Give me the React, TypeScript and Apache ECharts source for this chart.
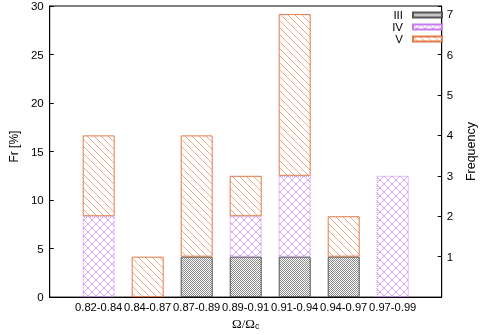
import React, { useEffect, useRef } from "react";
import * as echarts from "echarts";

const categories = ["0.82-0.84", "0.84-0.87", "0.87-0.89", "0.89-0.91", "0.91-0.94", "0.94-0.97", "0.97-0.99"];
const seriesNames = ["III", "IV", "V"];
// frequency counts per bin
const countsIII = [0, 0, 1, 1, 1, 1, 0];
const countsIV = [2, 0, 0, 1, 2, 0, 3];
const countsV = [2, 1, 3, 1, 4, 1, 0];
const frLeftMax = 30;
const freqRightMax = 7.2;

function makePattern(kind: string) {
  const n = kind === "check" ? 2 : kind === "cross" ? 8 : 7;
  const c = document.createElement("canvas");
  c.width = n;
  c.height = n;
  const ctx = c.getContext("2d")!;
  if (kind === "check") {
    ctx.fillStyle = "#fff";
    ctx.fillRect(0, 0, 2, 2);
    ctx.fillStyle = "#8a8a8a";
    ctx.fillRect(0, 0, 1, 1);
    ctx.fillRect(1, 1, 1, 1);
  } else if (kind === "cross") {
    ctx.fillStyle = "#d9a6f6";
    for (let i = 0; i < n; i++) {
      ctx.fillRect(i, i, 1, 1);
      ctx.fillRect(n - 1 - i, i, 1, 1);
    }
  } else {
    ctx.fillStyle = "#efaa86";
    for (let i = 0; i < n; i++) {
      ctx.fillRect(i, i, 1, 1);
    }
  }
  return { image: c, repeat: "repeat", imageWidth: n, imageHeight: n } as any;
}

export default function App() {
  const ref = useRef<HTMLDivElement>(null);
  useEffect(() => {
    document.body.style.margin = "0";
    document.body.style.overflow = "hidden";
    const chart = echarts.init(ref.current!, null, { renderer: "svg" });
    const xCats = ["", ...categories, ""];
    const pad = (arr: number[]) => ["-", ...arr.map((v) => (v > 0 ? v : "-")), "-"];
    const font = "Liberation Sans";
    const styles = [
      { color: makePattern("check"), borderColor: "#555", borderWidth: 1 },
      { color: makePattern("cross"), borderColor: "#c87cf0", borderWidth: 1, borderType: [1, 1] },
      { color: makePattern("diag"), borderColor: "#e27a4a", borderWidth: 1 },
    ];
    const data = [countsIII, countsIV, countsV];
    chart.setOption({
      animation: false,
      grid: { left: 41, right: 31, top: 4, bottom: 33, show: true, borderColor: "#000", borderWidth: 1 },
      legend: {
        data: seriesNames,
        orient: "vertical",
        align: "right",
        right: 42,
        top: 9,
        padding: 0,
        itemWidth: 29,
        itemHeight: 5,
        itemGap: 0,
        icon: "rect",
        selectedMode: false,
        textStyle: { fontFamily: font, fontSize: 11.5, color: "#000", lineHeight: 10, padding: [0, 5, 0, 0] },
      },
      xAxis: {
        type: "category",
        data: xCats,
        boundaryGap: false,
        axisLine: { show: true, lineStyle: { color: "#000" } },
        axisTick: { show: false },
        axisLabel: { interval: 0, margin: 4, color: "#000", fontFamily: font, fontSize: 11.2 },
        name: "{a|Ω/Ω}{b|c}",
        nameLocation: "middle",
        nameGap: 17,
        nameTextStyle: {
          rich: {
            a: { fontFamily: "Liberation Serif", fontSize: 13, color: "#000", lineHeight: 15, verticalAlign: "bottom" },
            b: { fontFamily: font, fontSize: 9, color: "#000", lineHeight: 15, verticalAlign: "bottom", padding: [4, 0, 0, 0] },
          },
        },
      },
      yAxis: [
        {
          type: "value",
          min: 0,
          max: frLeftMax,
          interval: 5,
          splitLine: { show: false },
          axisLine: { show: true, lineStyle: { color: "#000" } },
          axisTick: { show: true, inside: true, length: 4, lineStyle: { color: "#000" } },
          axisLabel: { margin: 6, color: "#000", fontFamily: font, fontSize: 11.5 },
          name: "Fr [%]",
          nameLocation: "middle",
          nameGap: 23,
          nameTextStyle: { fontFamily: font, fontSize: 12, color: "#000", padding: [0, 0, 0, 10] },
        },
        {
          type: "value",
          min: 0,
          max: freqRightMax,
          interval: 1,
          splitLine: { show: false },
          axisLine: { show: true, lineStyle: { color: "#000" } },
          axisTick: { show: true, inside: true, length: 4, lineStyle: { color: "#000" } },
          axisLabel: {
            margin: 5,
            color: "#000",
            fontFamily: font,
            fontSize: 11.5,
            formatter: (v: number) => (v === 0 || v > 7 ? "" : String(v)),
          },
          name: "Frequency",
          nameLocation: "middle",
          nameGap: 17,
          nameTextStyle: { fontFamily: font, fontSize: 12.5, color: "#000" },
        },
      ],
      series: seriesNames.map((name, k) => ({
        name,
        type: "bar",
        stack: "total",
        yAxisIndex: 1,
        barWidth: 32,
        data: pad(data[k]),
        itemStyle: styles[k],
        emphasis: { disabled: true },
      })),
    });
    return () => chart.dispose();
  }, []);
  return <div ref={ref} style={{ position: "fixed", left: 0, top: 0, width: 485, height: 335 }} />;
}
